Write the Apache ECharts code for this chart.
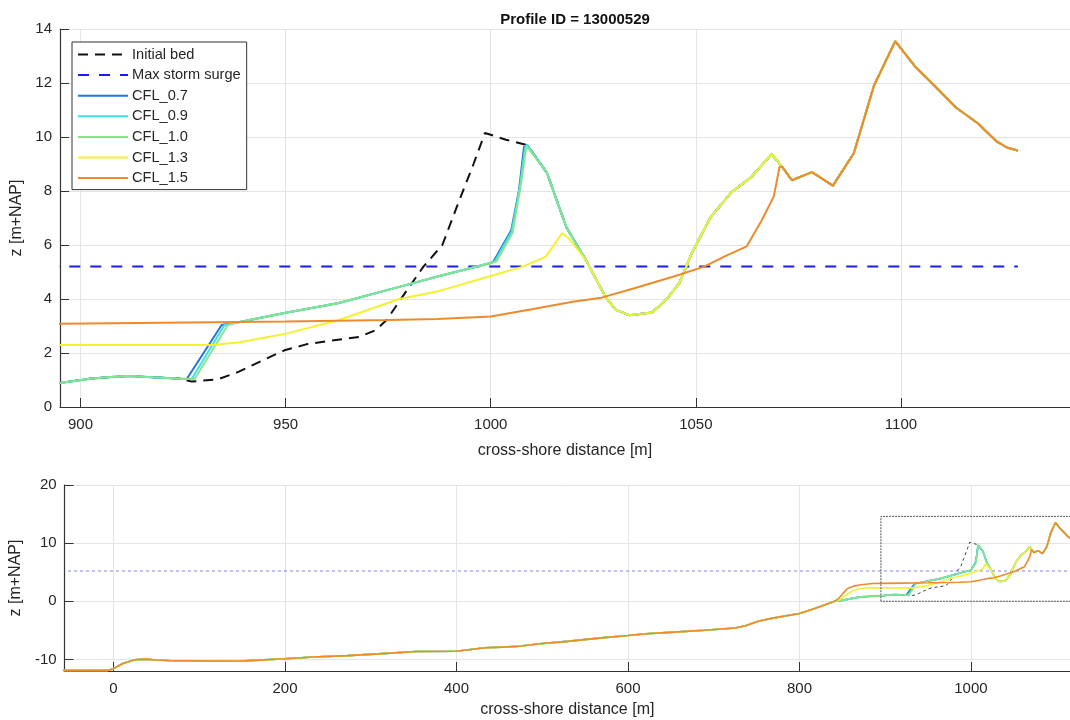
<!DOCTYPE html>
<html>
<head>
<meta charset="utf-8">
<script src="https://cdn.jsdelivr.net/npm/echarts@6.0.0/dist/echarts.min.js"></script>
<style>
  html, body { margin: 0; padding: 0; background: #ffffff; }
  #chart { width: 1070px; height: 720px; }
</style>
</head>
<body>
<div id="chart"></div>
<script>
// ---- Cross-shore bed profiles, [distance (m), z (m+NAP)] ----

// Seabed shared by every run (unchanged offshore of the beach)
const offshoreProfile = [
  [-60, -11.9], [-7, -11.9], [0, -11.6], [11, -10.7], [25, -10.06], [37, -9.95],
  [49, -10.1], [65, -10.2], [113, -10.3], [153, -10.25], [200, -9.9], [233, -9.6],
  [273, -9.35], [309, -9.05], [353, -8.65], [400, -8.6], [433, -8.0], [453, -7.9],
  [473, -7.75], [497, -7.3], [529, -6.9], [569, -6.3], [600, -5.9], [621, -5.6],
  [649, -5.35], [689, -5.0], [725, -4.6], [737, -4.2], [753, -3.4], [769, -2.9],
  [800, -2.1], [817, -1.3], [841, 0.0]
];

// Low beach terrace shared by the initial bed and CFL 0.7 / 0.9 / 1.0
const lowTerrace = [
  [850, 0.15], [860, 0.45], [872, 0.75], [885, 0.85], [895, 0.89], [902.3, 1.05],
  [906.4, 1.1], [911.3, 1.15], [917.6, 1.1], [924.5, 1.05]
];

// Initial bed from the terrace up to the original dune crest
const initialFront = [
  [927.1, 0.94], [933.6, 1.03], [938.5, 1.3], [944, 1.7], [949.7, 2.1], [955, 2.32],
  [960.7, 2.45], [968, 2.6], [972, 2.85], [974.6, 3.22], [979, 4.2], [983.6, 5.2],
  [988.2, 6.0], [991.7, 7.4], [995.8, 9.0], [998.6, 10.15], [1003.7, 9.9]
];

// Scarps cut at the back of the terrace
const cfl07Scarp = [[925.9, 1.04], [934.4, 3.04]];
const cfl09Scarp = [[927.1, 1.04], [935.1, 3.04]];
const cfl10Scarp = [[927.8, 1.04], [935.9, 3.04]];

// Upper beach slope shared by CFL 0.7 / 0.9 / 1.0
const upperSlope = [
  [938.8, 3.15], [949.7, 3.48], [963, 3.85], [977.7, 4.45], [987.5, 4.85], [1000, 5.33]
];

// Eroded dune fronts
const cfl07Crest = [[1000.7, 5.4], [1005, 6.55], [1006.9, 8.04], [1008.1, 9.63]];
const cfl09Crest = [[1001.0, 5.4], [1005.1, 6.5], [1007.1, 8.15], [1008.4, 9.65]];
const cfl10Crest = [[1001.4, 5.4], [1005.3, 6.44], [1007.4, 8.3], [1008.7, 9.68]];

// Landward side of the first dune, trough and second dune face
const crestBack = [[1008.9, 9.7], [1013.7, 8.67], [1018.4, 6.67]];
const troughAndRise = [
  [1023.2, 5.44], [1028, 4.07], [1030.5, 3.6], [1033.7, 3.4], [1039.3, 3.5],
  [1042.7, 3.96], [1046, 4.6], [1049, 5.7], [1053.6, 7.03], [1058.7, 7.96],
  [1063.4, 8.5], [1068.5, 9.37]
];

// Hinterland dunes, identical in all runs
const duneTail = [
  [1071, 8.9], [1073.4, 8.4], [1078.3, 8.7], [1083.4, 8.2], [1088.5, 9.4],
  [1093.4, 11.9], [1098.6, 13.55], [1103.5, 12.6], [1108.5, 11.85], [1113.3, 11.1],
  [1118.8, 10.5], [1123.2, 9.85], [1126, 9.6], [1128.5, 9.5]
];

// CFL 1.3: smoothed beach, lowered first dune
const cfl13Nearshore = [
  [848, 0.4], [855, 1.1], [862, 1.8], [870, 2.15], [880, 2.3], [895, 2.3], [932, 2.3],
  [938.8, 2.4], [949.7, 2.7], [963, 3.22], [977.7, 4.0], [987.5, 4.3], [1000, 4.85],
  [1007.6, 5.19], [1013.4, 5.56], [1017.4, 6.44], [1019, 6.25]
];

// CFL 1.5: first dune and trough flattened
const cfl15Nearshore = [
  [846, 0.5], [851, 1.4], [856, 2.2], [863, 2.6], [872, 2.85], [885, 3.05], [895, 3.08],
  [920, 3.12], [950, 3.17], [975, 3.22], [987, 3.26], [1000, 3.35], [1010, 3.62],
  [1020, 3.9], [1027, 4.05], [1035, 4.4], [1045, 4.85], [1052, 5.2], [1057.3, 5.6],
  [1062.4, 5.95], [1066, 6.9], [1069, 7.8], [1070.4, 8.9]
];

// Maximum storm surge level and its extent
const stormSurgeLevel = 5.2;
const surgeExtent = [-60, 1128.5];

// Detail window outlined on the overview
const detailWindow = { xMin: 895, xMax: 1141.2, zMin: 0, zMax: 14.6 };

// Axis ranges and tick labels
const topXRange = [895, 1141.2];
const topZRange = [0, 14];
const topXTicks = [900, 950, 1000, 1050, 1100];
const fullXRange = [-57, 1115.5];
const fullZRange = [-12, 20];
const fullXTicks = [0, 200, 400, 600, 800, 1000];
const fullZTicks = [-10, 0, 10, 20];

const titleText = 'Profile ID = 13000529';
const xName = 'cross-shore distance [m]';
const zName = 'z [m+NAP]';

// ---- Assemble the profiles ----
const profiles = [
  { name: 'Initial bed', parts: [offshoreProfile, lowTerrace, initialFront, crestBack, troughAndRise, duneTail] },
  { name: 'CFL_0.7', parts: [offshoreProfile, lowTerrace, cfl07Scarp, upperSlope, cfl07Crest, crestBack, troughAndRise, duneTail] },
  { name: 'CFL_0.9', parts: [offshoreProfile, lowTerrace, cfl09Scarp, upperSlope, cfl09Crest, crestBack, troughAndRise, duneTail] },
  { name: 'CFL_1.0', parts: [offshoreProfile, lowTerrace, cfl10Scarp, upperSlope, cfl10Crest, crestBack, troughAndRise, duneTail] },
  { name: 'CFL_1.3', parts: [offshoreProfile, cfl13Nearshore, troughAndRise, duneTail] },
  { name: 'CFL_1.5', parts: [offshoreProfile, cfl15Nearshore, duneTail] }
];
const joined = p => [].concat(...p.parts);

const FONT = '"Liberation Sans", Arial, Helvetica, sans-serif';
const INK = '#262626';
const GRID_LINE = '#e4e4e4';

const styles = {
  'Initial bed':     { color: '#111111', top: { width: 2, type: [10, 7] }, full: { width: 1, type: [3, 3], color: '#444444' } },
  'Max storm surge': { color: '#1c1cf0', top: { width: 2, type: [11, 10] }, full: { width: 1, type: [3, 3], color: 'rgba(60,60,240,0.65)' } },
  'CFL_0.7': { color: '#2277d2' },
  'CFL_0.9': { color: '#3ee0e6' },
  'CFL_1.0': { color: '#84e68c' },
  'CFL_1.3': { color: '#f2f230' },
  'CFL_1.5': { color: '#ef8a2c' }
};

function lineSeries(name, data, panel) {
  const st = styles[name];
  const spec = st[panel] || {};
  return {
    type: 'line',
    name: name,
    xAxisIndex: panel === 'top' ? 0 : 1,
    yAxisIndex: panel === 'top' ? 0 : 1,
    data: data,
    symbol: 'none',
    silent: true,
    clip: true,
    color: st.color,
    lineStyle: {
      color: spec.color || st.color,
      width: spec.width || (panel === 'top' ? 2 : 1.6),
      type: spec.type || 'solid'
    },
    emphasis: { disabled: true }
  };
}

const surgeData = surgeExtent.map(x => [x, stormSurgeLevel]);
const windowData = [
  [detailWindow.xMin, detailWindow.zMin], [detailWindow.xMin, detailWindow.zMax],
  [detailWindow.xMax, detailWindow.zMax], [detailWindow.xMax, detailWindow.zMin],
  [detailWindow.xMin, detailWindow.zMin]
];

const series = [];
['top', 'full'].forEach(panel => {
  series.push(lineSeries('Initial bed', joined(profiles[0]), panel));
  series.push(lineSeries('Max storm surge', surgeData, panel));
  profiles.slice(1).forEach(p => series.push(lineSeries(p.name, joined(p), panel)));
});
series.push({
  type: 'line', name: 'detail window', xAxisIndex: 1, yAxisIndex: 1,
  data: windowData, symbol: 'none', silent: true,
  lineStyle: { color: '#555555', width: 1, type: [2, 1] }
});

const plainNumber = v => String(v);

function xAxis(gridIndex, range, ticks, nameGap) {
  return {
    type: 'value', gridIndex: gridIndex, min: range[0], max: range[1],
    name: xName, nameLocation: 'middle', nameGap: nameGap,
    nameTextStyle: { fontFamily: FONT, fontSize: 16, color: INK },
    axisLine: { show: true, onZero: false, lineStyle: { color: '#333333', width: 1.2 } },
    axisTick: { show: true, inside: true, length: 9, customValues: ticks, lineStyle: { color: '#333333' } },
    axisLabel: { customValues: ticks, margin: 10, fontFamily: FONT, fontSize: 15, color: INK, formatter: plainNumber },
    splitLine: { show: true, lineStyle: { color: GRID_LINE, width: 1 } }
  };
}
function yAxis(gridIndex, range, ticks, interval) {
  const ax = {
    type: 'value', gridIndex: gridIndex, min: range[0], max: range[1],
    name: zName, nameLocation: 'middle', nameGap: 31,
    nameTextStyle: { fontFamily: FONT, fontSize: 16, color: INK },
    axisLine: { show: true, onZero: false, lineStyle: { color: '#333333', width: 1.2 } },
    axisTick: { show: true, inside: true, length: 9, lineStyle: { color: '#333333' } },
    axisLabel: { margin: 8, fontFamily: FONT, fontSize: 15, color: INK, formatter: plainNumber },
    splitLine: { show: true, lineStyle: { color: GRID_LINE, width: 1 } }
  };
  if (ticks) {
    ax.axisTick.customValues = ticks;
    ax.axisLabel.customValues = ticks;
  } else {
    ax.interval = interval;
  }
  return ax;
}

const option = {
  animation: false,
  backgroundColor: '#ffffff',
  title: {
    text: titleText, left: 570, top: 7, textAlign: 'center',
    textStyle: { fontFamily: FONT, fontSize: 15, fontWeight: 'bold', color: '#111111' }
  },
  grid: [
    { left: 60, top: 29, right: 0, bottom: 313 },
    { left: 60, top: 485, right: 0, bottom: 49 }
  ],
  xAxis: [
    xAxis(0, topXRange, topXTicks, 36),
    xAxis(1, fullXRange, fullXTicks, 31)
  ],
  yAxis: [
    yAxis(0, topZRange, null, 2),
    yAxis(1, fullZRange, fullZTicks)
  ],
  legend: {
    data: ['Initial bed', 'Max storm surge', 'CFL_0.7', 'CFL_0.9', 'CFL_1.0', 'CFL_1.3', 'CFL_1.5'],
    orient: 'vertical', left: 72, top: 42,
    padding: [5, 6, 4, 5],
    itemWidth: 50, itemHeight: 14, itemGap: 5.6,
    backgroundColor: '#ffffff', borderColor: '#333333', borderWidth: 1,
    selectedMode: false,
    itemStyle: { opacity: 0, borderWidth: 0 },
    textStyle: { fontFamily: FONT, fontSize: 14.6, color: INK, padding: [0, 0, 0, -1] }
  },
  series: series
};

const chart = echarts.init(document.getElementById('chart'), null, { renderer: 'canvas' });
chart.setOption(option);
</script>
</body>
</html>
